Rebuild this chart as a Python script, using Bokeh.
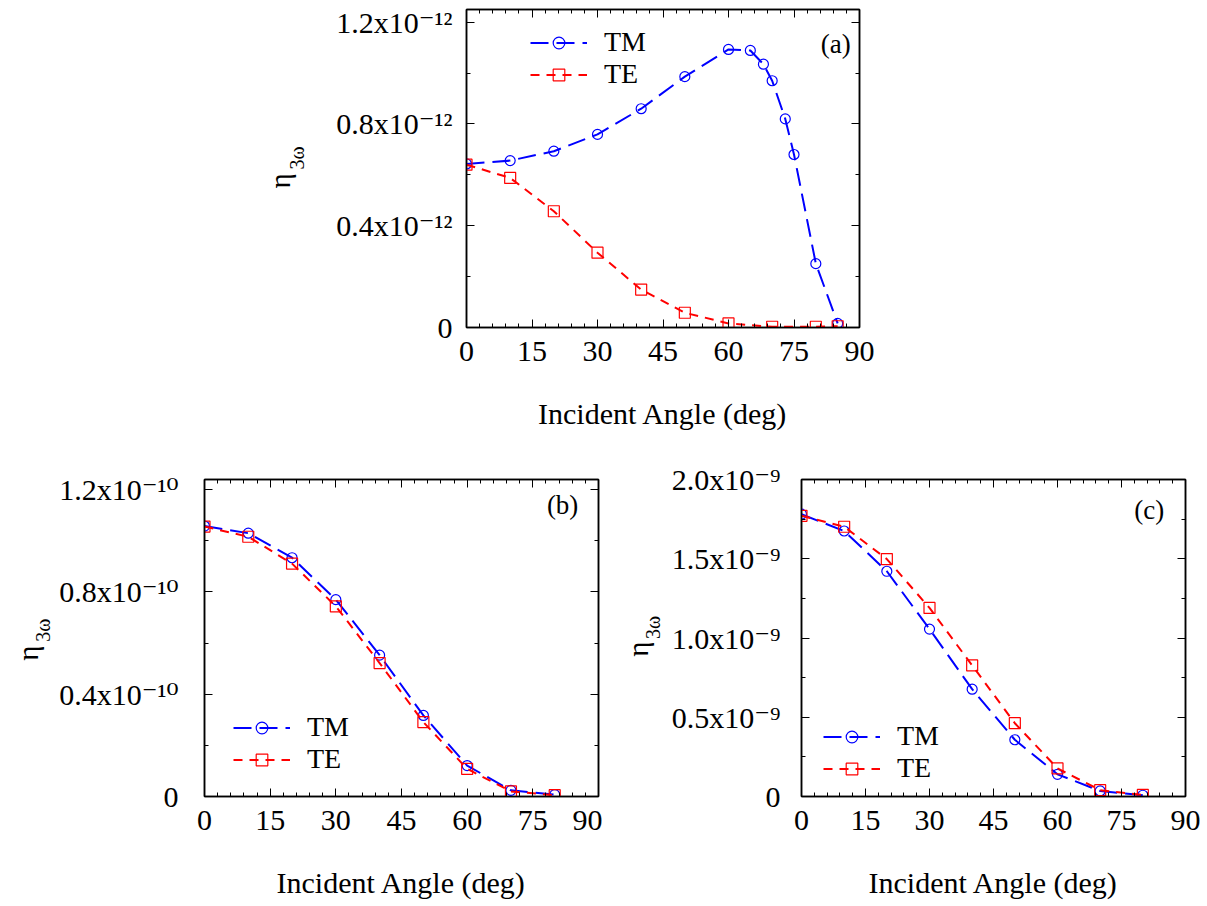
import math
from bokeh.plotting import figure
from bokeh.models import (Range1d, FixedTicker, LinearAxis, Legend, LegendItem,
                          Label, ColumnDataSource)
from bokeh.layouts import column, row
from bokeh.embed import file_html
from bokeh.resources import INLINE

# ---------------- data ----------------
# panel (a)  (units of 1e-12)
angle_a_tm = [0, 10, 20, 30, 40, 50, 60, 65, 68, 70, 73, 75, 80, 85]
tm_a = [0.643, 0.656, 0.693, 0.759, 0.860, 0.986, 1.093, 1.089, 1.035, 0.970, 0.820, 0.680, 0.251, 0.016]
angle_a_te = [0, 10, 20, 30, 40, 50, 60, 70, 80, 85]
te_a = [0.640, 0.588, 0.457, 0.294, 0.149, 0.058, 0.016, 0.003, 0.003, 0.005]

# panel (b)  (units of 1e-10)
angle_b = [0, 10, 20, 30, 40, 50, 60, 70, 80]
tm_b = [1.058, 1.030, 0.934, 0.770, 0.553, 0.317, 0.121, 0.024, 0.007]
te_b = [1.056, 1.016, 0.911, 0.744, 0.522, 0.291, 0.108, 0.020, 0.005]

# panel (c)  (units of 1e-9)
angle_c = [0, 10, 20, 30, 40, 50, 60, 70, 80]
tm_c = [1.781, 1.675, 1.421, 1.056, 0.677, 0.358, 0.140, 0.035, 0.008]
te_c = [1.771, 1.702, 1.498, 1.190, 0.827, 0.4625, 0.177, 0.040, 0.010]

x_ticks = [0, 15, 30, 45, 60, 75, 90]
x_minor = list(range(0, 91, 3))

ya_ticks = [0, 0.4, 0.8, 1.2]
ya_labels = ["0", "0.4x10\u207b\u00b9\u00b2", "0.8x10\u207b\u00b9\u00b2", "1.2x10\u207b\u00b9\u00b2"]
yb_ticks = [0, 0.4, 0.8, 1.2]
yb_labels = ["0", "0.4x10\u207b\u00b9\u2070", "0.8x10\u207b\u00b9\u2070", "1.2x10\u207b\u00b9\u2070"]
yc_ticks = [0, 0.5, 1.0, 1.5, 2.0]
yc_labels = ["0", "0.5x10\u207b\u2079", "1.0x10\u207b\u2079", "1.5x10\u207b\u2079", "2.0x10\u207b\u2079"]

FONT = "Liberation Serif, DejaVu Serif"
BLUE = "#0000ff"
RED = "#ff0000"


def make_panel(width, height, bl, br, bt, bb, ymax, yticks, ylabels, yminor, ystandoff,
               tm_x, tm_y, te_x, te_y, scale, tag, tag_xy, legend_loc):
    p = figure(width=width, height=height, output_backend="svg", toolbar_location=None,
               x_range=Range1d(0, 90), y_range=Range1d(0, ymax * scale),
               min_border_left=bl, min_border_right=br, min_border_top=bt, min_border_bottom=bb,
               x_axis_type=None, y_axis_type=None)
    p.grid.visible = False
    p.outline_line_color = "black"
    p.outline_line_width = 1.5
    p.background_fill_color = "white"
    p.border_fill_color = "white"

    xt = FixedTicker(ticks=x_ticks, minor_ticks=x_minor)
    yt = FixedTicker(ticks=[t * scale for t in yticks], minor_ticks=[m * scale for m in yminor])

    def style(ax, show):
        ax.axis_line_color = "black"
        ax.axis_line_width = 1.5
        ax.major_tick_in = 8
        ax.major_tick_out = 0
        ax.minor_tick_in = 4
        ax.minor_tick_out = 0
        ax.major_tick_line_color = "black"
        ax.minor_tick_line_color = "black"
        if show:
            ax.major_label_text_font = FONT
            ax.major_label_text_font_size = "30px"
            ax.major_label_text_color = "black"
        else:
            ax.major_label_text_font_size = "0px"
            ax.major_label_standoff = 0

    xb = LinearAxis(ticker=xt, axis_label="Incident Angle (deg)")
    style(xb, True)
    xb.major_label_standoff = 14
    xb.axis_label_text_font = FONT
    xb.axis_label_text_font_size = "30px"
    xb.axis_label_text_font_style = "normal"
    xb.axis_label_text_color = "black"
    xb.axis_label_standoff = 33
    p.add_layout(xb, "below")

    xa = LinearAxis(ticker=xt)
    style(xa, False)
    p.add_layout(xa, "above")

    yl = LinearAxis(ticker=yt)
    style(yl, True)
    yl.major_label_standoff = ystandoff
    yl.major_label_overrides = {t * scale: s for t, s in zip(yticks, ylabels)}
    p.add_layout(yl, "left")

    yr = LinearAxis(ticker=yt)
    style(yr, False)
    p.add_layout(yr, "right")

    tm_src = ColumnDataSource(dict(x=tm_x, y=[v * scale for v in tm_y]))
    te_src = ColumnDataSource(dict(x=te_x, y=[v * scale for v in te_y]))

    r_tm_l = p.line("x", "y", source=tm_src, line_color=BLUE, line_width=2, line_dash="18 8")
    r_tm_m = p.scatter("x", "y", source=tm_src, marker="circle", size=10, fill_color=None,
                       line_color=BLUE, line_width=1.2)
    r_te_l = p.line("x", "y", source=te_src, line_color=RED, line_width=2, line_dash="9 7")
    r_te_m = p.scatter("x", "y", source=te_src, marker="square", size=11, fill_color=None,
                       line_color=RED, line_width=1.2)

    leg = Legend(items=[LegendItem(label="TM", renderers=[r_tm_l, r_tm_m]),
                        LegendItem(label="TE", renderers=[r_te_l, r_te_m])],
                 location=legend_loc, orientation="vertical")
    leg.label_text_font = FONT
    leg.label_text_font_size = "28px"
    leg.label_text_color = "black"
    leg.glyph_width = 57
    leg.glyph_height = 29
    leg.label_height = 29
    leg.label_standoff = 17
    leg.spacing = -3
    leg.padding = 0
    leg.margin = 0
    leg.border_line_color = None
    leg.background_fill_alpha = 0
    p.add_layout(leg)

    p.add_layout(Label(x=tag_xy[0], y=tag_xy[1] * scale, text=tag, text_font=FONT,
                       text_font_size="27px", text_align="right", text_baseline="middle",
                       text_color="black"))
    return p


def make_ylabel(width, height, eta_xy, sub_xy):
    """Narrow figure carrying the rotated y-axis title eta_{3omega}."""
    q = figure(width=width, height=height, output_backend="svg", toolbar_location=None,
               x_range=Range1d(0, width), y_range=Range1d(0, height),
               min_border_left=0, min_border_right=0, min_border_top=0, min_border_bottom=0,
               x_axis_type=None, y_axis_type=None)
    q.grid.visible = False
    q.outline_line_color = None
    q.background_fill_color = "white"
    q.border_fill_color = "white"
    q.add_layout(Label(x=eta_xy[0], y=height - eta_xy[1], text="\u03b7", text_font=FONT,
                       text_font_size="29px", angle=math.pi / 2, text_align="left",
                       text_baseline="alphabetic", text_color="black"))
    q.add_layout(Label(x=sub_xy[0], y=height - sub_xy[1], text="3\u03c9", text_font=FONT,
                       text_font_size="20px", angle=math.pi / 2, text_align="left",
                       text_baseline="alphabetic", text_color="black"))
    return q


la = make_ylabel(320, 455, (279, 256), (296, 229))
pa = make_panel(579, 455, 146, 40, 9, 128, 1.25, ya_ticks, ya_labels, [0.2, 0.6, 1.0], 14,
                angle_a_tm, tm_a, angle_a_te, te_a, 1e-12, "(a)", (88.0, 1.116), (64, 237))

lb = make_ylabel(54, 451, (27, 258), (42, 231))
pb = make_panel(548, 451, 150, 4, 24, 109, 1.24, yb_ticks, yb_labels, [0.2, 0.6, 1.0], 26,
                angle_b, tm_b, angle_b, te_b, 1e-10, "(b)", (85.4, 1.139), (29, 21))

lc = make_ylabel(64, 451, (35, 252), (50, 227))
pc = make_panel(541, 451, 135, 22, 20, 110, 2.0, yc_ticks, yc_labels, [0.25, 0.75, 1.25, 1.75], 21,
                angle_c, tm_c, angle_c, te_c, 1e-9, "(c)", (85.0, 1.807), (22, 12))

layout = column(row(la, pa), row(lb, pb, lc, pc))

open("out.html", "w").write(file_html(layout, INLINE))
